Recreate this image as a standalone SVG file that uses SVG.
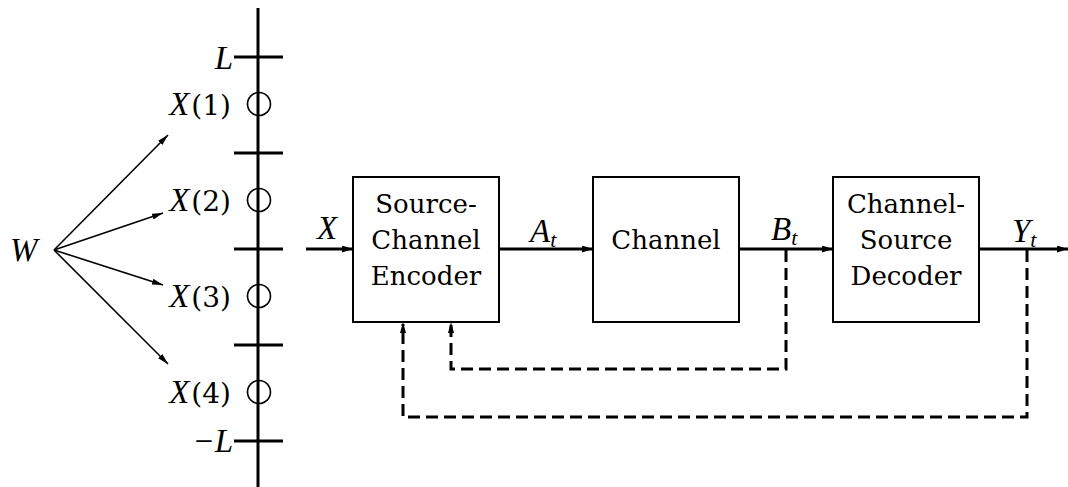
<svg xmlns="http://www.w3.org/2000/svg" width="1068" height="487" viewBox="0 0 1068 487">
<style>
.rm{font-family:"DejaVu Serif","Liberation Serif",serif;font-size:26px;fill:#000;text-anchor:middle}
.it{font-family:"Liberation Serif","DejaVu Serif",serif;font-style:italic;font-size:33px;fill:#000}
.up{font-family:"DejaVu Serif","Liberation Serif",serif;font-style:normal;font-size:28px}
.sub{font-size:22px}
.box{fill:#fff;stroke:#000;stroke-width:2}
.main{stroke:#000;stroke-width:3;fill:none}
.thin{stroke:#000;stroke-width:1.6;fill:none}
.dash{stroke:#000;stroke-width:3;fill:none;stroke-dasharray:12 6}
.circ{fill:none;stroke:#000;stroke-width:1.6}
</style>
<defs>
<marker id="ah" markerUnits="userSpaceOnUse" markerWidth="12" markerHeight="8" refX="11" refY="3.5" orient="auto">
<path d="M0,0 L11,3.5 L0,7 z" fill="#000"/>
</marker>
<marker id="ahs" markerUnits="userSpaceOnUse" markerWidth="12" markerHeight="8" refX="11" refY="3" orient="auto">
<path d="M0,0 L11,3 L0,6 z" fill="#000"/>
</marker>
</defs>

<g id="axis">
<line class="main" x1="258" y1="8" x2="258" y2="487"/>
<line class="main" x1="234" y1="57" x2="283" y2="57"/>
<line class="main" x1="234" y1="153" x2="283" y2="153"/>
<line class="main" x1="234" y1="249" x2="283" y2="249"/>
<line class="main" x1="234" y1="345" x2="283" y2="345"/>
<line class="main" x1="234" y1="441" x2="283" y2="441"/>
<circle class="circ" cx="259" cy="104" r="11.5"/>
<circle class="circ" cx="259" cy="200" r="11.5"/>
<circle class="circ" cx="259" cy="296" r="11.5"/>
<circle class="circ" cx="259" cy="392" r="11.5"/>
<text class="it" x="233" y="69" text-anchor="end">L</text>
<text class="it" x="233" y="452" text-anchor="end">−L</text>
<text class="it" x="231" y="115" text-anchor="end">X<tspan class="up" dx="2">(1)</tspan></text>
<text class="it" x="231" y="211" text-anchor="end">X<tspan class="up" dx="2">(2)</tspan></text>
<text class="it" x="231" y="307" text-anchor="end">X<tspan class="up" dx="2">(3)</tspan></text>
<text class="it" x="231" y="403" text-anchor="end">X<tspan class="up" dx="2">(4)</tspan></text>
</g>

<g id="W">
<text class="it" x="10" y="261">W</text>
</g>

<g id="encoder">
<rect class="box" x="353" y="177" width="146" height="145"/>
<text class="rm" x="426" y="213">Source-</text>
<text class="rm" x="426" y="249">Channel</text>
<text class="rm" x="426" y="285">Encoder</text>
</g>

<g id="channel">
<rect class="box" x="593" y="177" width="146" height="145"/>
<text class="rm" x="666" y="249">Channel</text>
</g>

<g id="decoder">
<rect class="box" x="833" y="177" width="146" height="145"/>
<text class="rm" x="906" y="213">Channel-</text>
<text class="rm" x="906" y="249">Source</text>
<text class="rm" x="906" y="285">Decoder</text>
</g>

<g id="connectors">
<line class="thin" x1="54" y1="250" x2="168" y2="135" marker-end="url(#ahs)"/>
<line class="thin" x1="54" y1="250" x2="163" y2="213" marker-end="url(#ahs)"/>
<line class="thin" x1="54" y1="250" x2="163" y2="285" marker-end="url(#ahs)"/>
<line class="thin" x1="54" y1="250" x2="168" y2="364" marker-end="url(#ahs)"/>

<line class="main" x1="306" y1="249" x2="353" y2="249" marker-end="url(#ah)"/>
<line class="main" x1="499" y1="249" x2="593" y2="249" marker-end="url(#ah)"/>
<line class="main" x1="739" y1="249" x2="833" y2="249" marker-end="url(#ah)"/>
<line class="main" x1="979" y1="249" x2="1068" y2="249" marker-end="url(#ah)"/>

<polyline class="dash" points="786,250 786,369 451,369 451,324"/>
<polyline class="dash" points="1027,250 1027,417 403,417 403,324"/>
<path d="M451,322 L448,333 L454,333 z" fill="#000"/>
<path d="M403,322 L400,333 L406,333 z" fill="#000"/>

<text class="it" x="317" y="239">X</text>
<text class="it" x="530" y="242">A<tspan class="sub" dy="5">t</tspan></text>
<text class="it" x="771" y="240">B<tspan class="sub" dy="5">t</tspan></text>
<text class="it" x="1012" y="242">Y<tspan class="sub" dy="5">t</tspan></text>
</g>
</svg>
